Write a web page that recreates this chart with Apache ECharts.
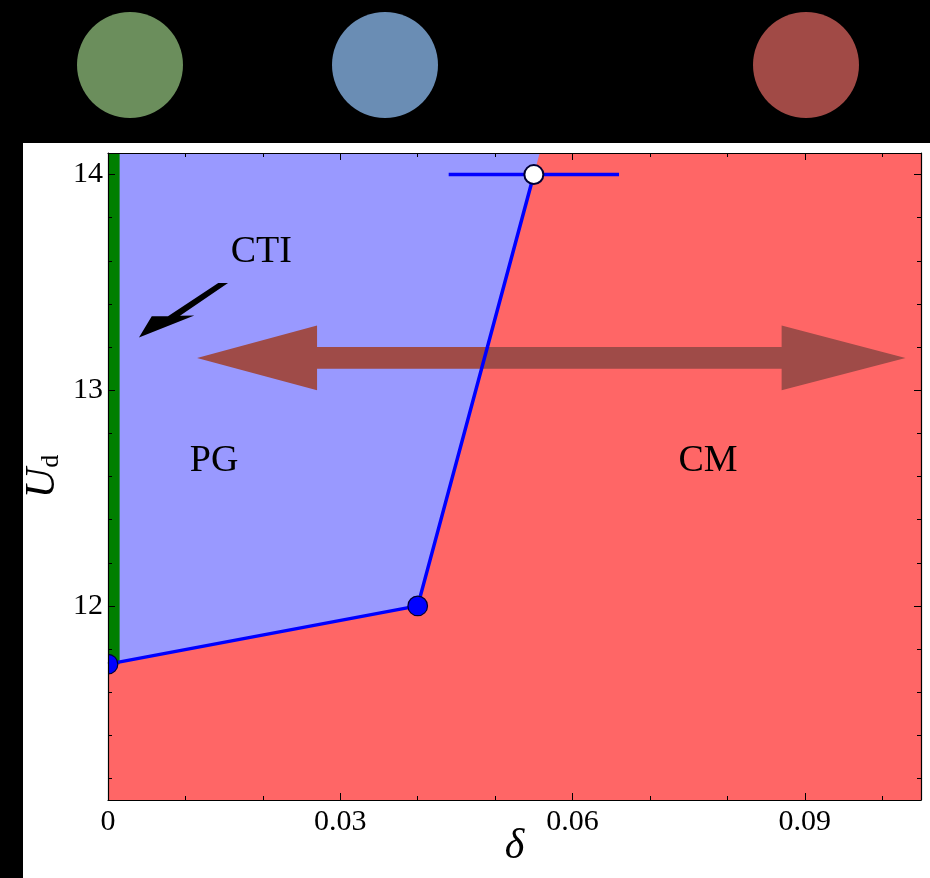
<!DOCTYPE html>
<html>
<head>
<meta charset="utf-8">
<script src="https://cdn.jsdelivr.net/npm/echarts@6/dist/echarts.min.js"></script>
<style>
  html, body { margin: 0; padding: 0; background: #000; }
  #chart { width: 930px; height: 878px; }
</style>
</head>
<body>
<div id="chart"></div>
<script>
// ---- axes ----
const deltaRange = [0, 0.105];
const udRange = [11.1, 14.1];
const deltaMajor = [0, 0.03, 0.06, 0.09];
const deltaMinor = [0.01, 0.02, 0.04, 0.05, 0.07, 0.08, 0.10];
const udMajor = [12, 13, 14];
const udMinor = [11.2, 11.4, 11.6, 11.8, 12.2, 12.4, 12.6, 12.8, 13.2, 13.4, 13.6, 13.8];

// ---- phase boundary (PG | CM) ----
const boundaryDelta = [0, 0.04, 0.055];
const boundaryUd = [11.73, 12.0, 14.0];
// horizontal error bar on the last boundary point
const errDelta = [0.044, 0.066];
// width of the CTI strip along delta = 0
const ctiWidth = 0.0015;

// ---- phase labels ----
const phaseNames = ['CTI', 'PG', 'CM'];
const phaseDelta = [0.0198, 0.0137, 0.0775];
const phaseUd = [13.64, 12.67, 12.67];

const SERIF = '"Liberation Serif", "DejaVu Serif", serif';
const lastIdx = boundaryDelta.length - 1;
// continue the last boundary segment up to the top of the frame
const topDelta = boundaryDelta[lastIdx] +
  (boundaryDelta[lastIdx] - boundaryDelta[lastIdx - 1]) /
  (boundaryUd[lastIdx] - boundaryUd[lastIdx - 1]) * (udRange[1] - boundaryUd[lastIdx]);

const boundaryPts = boundaryDelta.map((d, i) => [d, boundaryUd[i]]);
const pgRegion = boundaryPts.concat([[topDelta, udRange[1]], [deltaRange[0], udRange[1]]]);
const cmRegion = [[deltaRange[0], udRange[0]], [deltaRange[1], udRange[0]],
                  [deltaRange[1], udRange[1]], [deltaRange[0], udRange[1]]];
const ctiRegion = [[0, boundaryUd[0]], [ctiWidth, boundaryUd[0]],
                   [ctiWidth, udRange[1]], [0, udRange[1]]];

// double-headed sweep arrow (delta of tips / head bases, centre Ud, half widths)
const sweep = { tips: [0.0115, 0.103], bases: [0.027, 0.087], ud: 13.15, head: 0.15, shaft: 0.05 };
const sweepPts = [
  [sweep.tips[0], sweep.ud],
  [sweep.bases[0], sweep.ud + sweep.head],
  [sweep.bases[0], sweep.ud + sweep.shaft],
  [sweep.bases[1], sweep.ud + sweep.shaft],
  [sweep.bases[1], sweep.ud + sweep.head],
  [sweep.tips[1], sweep.ud],
  [sweep.bases[1], sweep.ud - sweep.head],
  [sweep.bases[1], sweep.ud - sweep.shaft],
  [sweep.bases[0], sweep.ud - sweep.shaft],
  [sweep.bases[0], sweep.ud - sweep.head]
];
// small pointer towards the CTI strip
const ctiPointer = [
  [0.0040, 13.244], [0.00565, 13.343], [0.00775, 13.343], [0.01424, 13.497],
  [0.01550, 13.497], [0.00930, 13.345], [0.01115, 13.346]
];

function polygonSeries(name, pts, fill, z) {
  return {
    type: 'custom', name, z, silent: true,
    xAxisIndex: 0, yAxisIndex: 0,
    data: [[0, 0]],
    renderItem: (params, api) => ({
      type: 'polygon',
      shape: { points: pts.map(p => api.coord(p)) },
      style: { fill }
    })
  };
}

function tickAxis(kind, position, values, length, withLine) {
  const range = kind === 'x' ? deltaRange : udRange;
  return {
    type: 'value', position, min: range[0], max: range[1], z: 10,
    axisLine: { show: withLine, onZero: false, lineStyle: { color: '#000', width: 1.2 } },
    axisTick: { show: true, inside: true, length, customValues: values,
                lineStyle: { color: '#000', width: 1 } },
    axisLabel: { show: false },
    splitLine: { show: false }
  };
}

const chart = echarts.init(document.getElementById('chart'), null, { renderer: 'canvas' });

const xMain = tickAxis('x', 'bottom', deltaMajor, 7, true);
xMain.axisLabel = {
  show: true, customValues: deltaMajor, margin: 7, color: '#000',
  fontFamily: SERIF, fontSize: 30,
  formatter: v => (v === 0 ? '0' : String(v))
};
xMain.name = 'δ';
xMain.nameLocation = 'middle';
xMain.nameGap = 26;
xMain.nameMoveOverlap = false;
xMain.nameTextStyle = { fontFamily: SERIF, fontStyle: 'italic', fontSize: 42, color: '#000' };

const yMain = tickAxis('y', 'left', udMajor, 7, true);
yMain.axisLabel = {
  show: true, customValues: udMajor, margin: 5, color: '#000',
  fontFamily: SERIF, fontSize: 30
};
yMain.name = '{u|U}{d|d}';
yMain.nameLocation = 'middle';
yMain.nameRotate = 90;
yMain.nameGap = 44;
yMain.nameMoveOverlap = false;
yMain.nameTextStyle = {
  color: '#000',
  rich: {
    u: { fontFamily: SERIF, fontStyle: 'italic', fontSize: 42, color: '#000', lineHeight: 42 },
    d: { fontFamily: SERIF, fontSize: 26, color: '#000', verticalAlign: 'bottom', lineHeight: 20 }
  }
};

const option = {
  backgroundColor: '#000',
  animation: false,
  graphic: [
    { type: 'rect', z: -10, silent: true,
      shape: { x: 23, y: 143, width: 907, height: 735 }, style: { fill: '#fff' } },
    { type: 'circle', silent: true, shape: { cx: 130, cy: 65, r: 53 }, style: { fill: '#6b8e5c' } },
    { type: 'circle', silent: true, shape: { cx: 385, cy: 65, r: 53 }, style: { fill: '#6a8db4' } },
    { type: 'circle', silent: true, shape: { cx: 806, cy: 65, r: 53 }, style: { fill: '#a14a46' } }
  ],
  grid: { left: 108, right: 9, top: 153, bottom: 78, containLabel: false, outerBoundsMode: 'none' },
  xAxis: [
    xMain,
    tickAxis('x', 'bottom', deltaMinor, 4, false),
    tickAxis('x', 'top', deltaMajor, 7, true),
    tickAxis('x', 'top', deltaMinor, 4, false)
  ],
  yAxis: [
    yMain,
    tickAxis('y', 'left', udMinor, 4, false),
    tickAxis('y', 'right', udMajor, 7, true),
    tickAxis('y', 'right', udMinor, 4, false)
  ],
  series: [
    polygonSeries('CM', cmRegion, '#ff6666', 1),
    polygonSeries('PG', pgRegion, '#9999ff', 2),
    polygonSeries('CTI', ctiRegion, '#007f00', 3),
    polygonSeries('sweep', sweepPts, '#9f4b48', 4),
    polygonSeries('pointer', ctiPointer, '#000', 4),
    {
      type: 'custom', name: 'labels', z: 4, silent: true,
      xAxisIndex: 0, yAxisIndex: 0,
      data: phaseNames.map((n, i) => [phaseDelta[i], phaseUd[i]]),
      renderItem: (params, api) => {
        const p = api.coord([api.value(0), api.value(1)]);
        return {
          type: 'text', x: p[0], y: p[1],
          style: {
            text: phaseNames[params.dataIndex], fill: '#000',
            font: '38px ' + SERIF,
            align: 'center', verticalAlign: 'middle',
            textAlign: 'center', textVerticalAlign: 'middle'
          }
        };
      }
    },
    {
      type: 'line', name: 'error bar', z: 5, silent: true,
      xAxisIndex: 0, yAxisIndex: 0,
      data: errDelta.map(d => [d, boundaryUd[lastIdx]]),
      symbol: 'none', lineStyle: { color: '#0000ff', width: 3.5 }
    },
    {
      type: 'line', name: 'boundary', z: 5, silent: true,
      xAxisIndex: 0, yAxisIndex: 0,
      data: boundaryPts,
      symbol: 'none', lineStyle: { color: '#0000ff', width: 3.5 }
    },
    {
      // transition points, clipped to the frame
      type: 'custom', name: 'transition points', z: 6, silent: true,
      xAxisIndex: 0, yAxisIndex: 0, clip: true,
      data: boundaryPts,
      renderItem: (params, api) => {
        const p = api.coord([api.value(0), api.value(1)]);
        const open = params.dataIndex === lastIdx;
        return {
          type: 'circle',
          shape: { cx: p[0], cy: p[1], r: open ? 9.5 : 9.8 },
          style: { fill: open ? '#ffffff' : '#0000ff', stroke: '#000033', lineWidth: open ? 2 : 1.2 }
        };
      }
    }
  ]
};

chart.setOption(option);
</script>
</body>
</html>
